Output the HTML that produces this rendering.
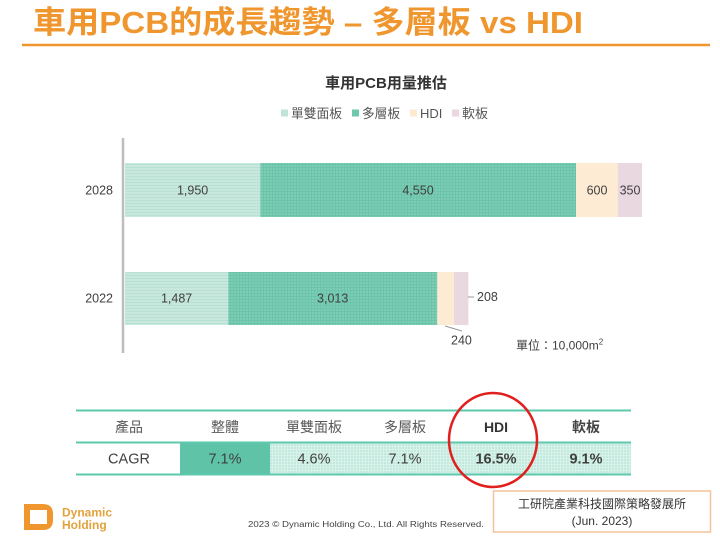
<!DOCTYPE html>
<html>
<head>
<meta charset="utf-8">
<style>
  html,body{margin:0;padding:0;background:#fff;}
  svg{display:block;}
  text{font-family:"Liberation Sans","Noto Sans CJK TC",sans-serif;}
</style>
</head>
<body>
<svg width="720" height="543" viewBox="0 0 720 543" xmlns="http://www.w3.org/2000/svg">
  <defs>
    <pattern id="pLight" width="4" height="3" patternUnits="userSpaceOnUse">
      <rect width="4" height="3" fill="#c8e7dd"/>
      <rect y="2" width="4" height="1" fill="#b9e0d4"/>
    </pattern>
    <pattern id="pMulti" width="3" height="3" patternUnits="userSpaceOnUse">
      <rect width="3" height="3" fill="#7ccdb4"/>
      <rect y="2" width="3" height="1" fill="#6cc4aa"/>
      <rect x="2" width="1" height="3" fill="#6cc4aa"/>
    </pattern>
    <pattern id="pCell" width="3" height="3" patternUnits="userSpaceOnUse">
      <rect width="3" height="3" fill="#c2e9dd"/>
      <rect y="2" width="3" height="1" fill="#d8f2ea"/>
      <rect x="2" width="1" height="3" fill="#d8f2ea"/>
    </pattern>
  </defs>

  <!-- Title -->
  <text x="33" y="33" font-size="31" font-weight="700" fill="#f0962e" textLength="550" lengthAdjust="spacingAndGlyphs">車用PCB的成長趨勢 – 多層板 vs HDI</text>
  <line x1="22" y1="45" x2="710" y2="45" stroke="#f0962e" stroke-width="2.5"/>

  <!-- Chart title -->
  <text x="386" y="88" font-size="15" font-weight="700" fill="#333" text-anchor="middle">車用PCB用量推估</text>

  <!-- Legend -->
  <rect x="281" y="109.5" width="7" height="7" fill="#bfe3d7"/>
  <text x="291" y="118" font-size="13" fill="#555" textLength="51" lengthAdjust="spacingAndGlyphs">單雙面板</text>
  <rect x="352" y="109.5" width="7" height="7" fill="#6fc7ad"/>
  <text x="362" y="118" font-size="13" fill="#555" textLength="38" lengthAdjust="spacingAndGlyphs">多層板</text>
  <rect x="410" y="109.5" width="7" height="7" fill="#fcebd0"/>
  <text x="420" y="118" font-size="13" fill="#555">HDI</text>
  <rect x="452" y="109.5" width="7" height="7" fill="#ead7e1"/>
  <text x="462" y="118" font-size="13" fill="#555" textLength="26" lengthAdjust="spacingAndGlyphs">軟板</text>

  <!-- Axis -->
  <line x1="123" y1="138" x2="123" y2="353" stroke="#bdbdbd" stroke-width="2.5"/>

  <!-- 2028 bar -->
  <rect x="125" y="163" width="135.3" height="54" fill="url(#pLight)"/>
  <rect x="260.3" y="163" width="315.8" height="54" fill="url(#pMulti)"/>
  <rect x="576.1" y="163" width="41.6" height="54" fill="#fdecd3"/>
  <rect x="617.7" y="163" width="24.3" height="54" fill="#ead8e1"/>

  <!-- 2022 bar -->
  <rect x="125" y="272" width="103.2" height="53" fill="url(#pLight)"/>
  <rect x="228.2" y="272" width="209.1" height="53" fill="url(#pMulti)"/>
  <rect x="437.3" y="272" width="16.7" height="53" fill="#fdecd3"/>
  <rect x="454" y="272" width="14.4" height="53" fill="#ead8e1"/>

  <!-- Y labels -->
  <text x="113" y="194.5" font-size="12.5" fill="#404040" text-anchor="end">2028</text>
  <text x="113" y="302.5" font-size="12.5" fill="#404040" text-anchor="end">2022</text>

  <!-- Bar labels -->
  <g font-size="12.5" fill="#404040" text-anchor="middle">
    <text x="192.6" y="194.5">1,950</text>
    <text x="418" y="194.5">4,550</text>
    <text x="597" y="194.5">600</text>
    <text x="630" y="194.5">350</text>
    <text x="176.6" y="302.5">1,487</text>
    <text x="332.7" y="302.5">3,013</text>
  </g>
  <line x1="468" y1="297" x2="474" y2="297" stroke="#999" stroke-width="1"/>
  <text x="477" y="301" font-size="12.5" fill="#404040">208</text>
  <line x1="445" y1="326" x2="462" y2="331" stroke="#999" stroke-width="1"/>
  <text x="451" y="344.5" font-size="12.5" fill="#404040">240</text>

  <text x="516" y="349.5" font-size="12" fill="#404040">單位：10,000m<tspan font-size="8" dy="-5">2</tspan></text>

  <!-- Table -->
  <rect x="180" y="443" width="90" height="31" fill="#5fc3a7"/>
  <rect x="270" y="443" width="361" height="31" fill="url(#pCell)"/>
  <line x1="76" y1="410.5" x2="631" y2="410.5" stroke="#5ec8ad" stroke-width="2"/>
  <line x1="76" y1="442.5" x2="631" y2="442.5" stroke="#5ec8ad" stroke-width="2"/>
  <line x1="76" y1="474.5" x2="631" y2="474.5" stroke="#5ec8ad" stroke-width="2"/>

  <g font-size="14" fill="#595959" text-anchor="middle">
    <text x="129" y="432">產品</text>
    <text x="225" y="432">整體</text>
    <text x="314" y="432">單雙面板</text>
    <text x="405" y="432">多層板</text>
    <text x="496" y="432" font-weight="700" fill="#333">HDI</text>
    <text x="586" y="432" font-weight="700" fill="#444">軟板</text>
  </g>
  <g font-size="14.5" fill="#404040" text-anchor="middle">
    <text x="129" y="463.5">CAGR</text>
    <text x="225" y="463.5">7.1%</text>
    <text x="314" y="463.5">4.6%</text>
    <text x="405" y="463.5">7.1%</text>
    <text x="496" y="463.5" font-weight="700">16.5%</text>
    <text x="586" y="463.5" font-weight="700">9.1%</text>
  </g>

  <!-- Red circle -->
  <ellipse cx="493" cy="440" rx="44" ry="47" fill="none" stroke="#e0201f" stroke-width="2.5"/>

  <!-- Source box -->
  <rect x="493.5" y="491" width="217" height="41" fill="#fff" stroke="#f2c49a" stroke-width="1.5"/>
  <text x="602" y="508" font-size="12" fill="#333" text-anchor="middle">工研院產業科技國際策略發展所</text>
  <text x="602" y="525" font-size="12" fill="#333" text-anchor="middle">(Jun. 2023)</text>

  <!-- Copyright -->
  <text x="248" y="527" font-size="8.5" fill="#444" textLength="236" lengthAdjust="spacingAndGlyphs">2023 © Dynamic Holding Co., Ltd. All Rights Reserved.</text>

  <!-- Logo -->
  <path d="M24,504 H43 Q53,504 53,514 V520 Q53,530 43,530 H24 Z M30,510 V524 H47 V510 Z" fill="#f0962e" fill-rule="evenodd"/>
  <text x="62" y="516.5" font-size="12" font-weight="700" fill="#e3a23c">Dynamic</text>
  <text x="62" y="529" font-size="12" font-weight="700" fill="#e3a23c">Holding</text>
</svg>
</body>
</html>
